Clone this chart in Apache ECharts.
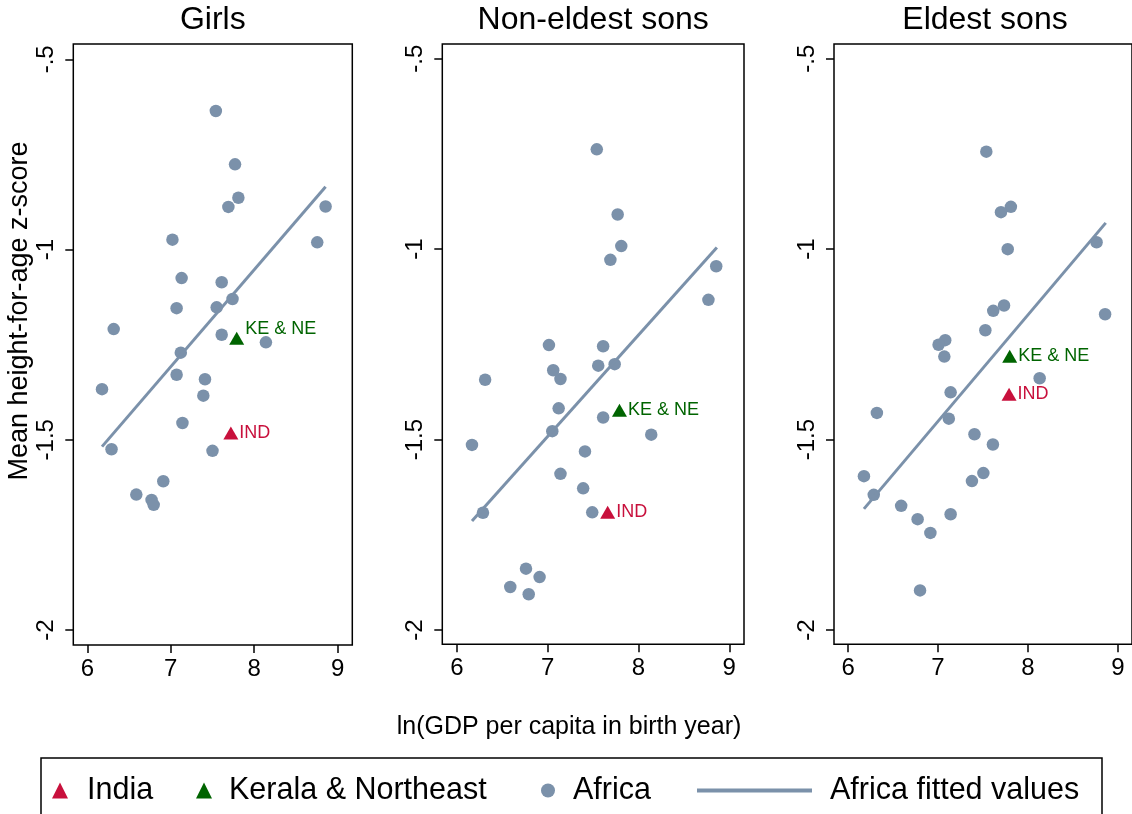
<!DOCTYPE html>
<html>
<head>
<meta charset="utf-8">
<script src="https://cdn.jsdelivr.net/npm/echarts@6/dist/echarts.min.js"></script>
<style>
  html, body { margin: 0; padding: 0; background: #fff; }
  #chart { width: 1132px; height: 814px; }
</style>
</head>
<body>
<div id="chart"></div>
<script>
// ---------------- data ----------------
const panelTitles = ['Girls', 'Non-eldest sons', 'Eldest sons'];
const xTicks = [6, 7, 8, 9];
const yTicks = [-2, -1.5, -1, -0.5];
const yTickLabels = ['-2', '-1.5', '-1', '-.5'];
const xTitle = 'ln(GDP per capita in birth year)';
const yTitle = 'Mean height-for-age z-score';
const seriesNames = ['India', 'Kerala & Northeast', 'Africa', 'Africa fitted values'];
const markerLabels = ['IND', 'KE & NE'];

// Girls
const girlsAfricaX = [7.54, 7.77, 7.81, 7.69, 8.855, 8.755, 7.02, 7.13, 7.61, 7.74, 7.07, 7.55, 6.316, 7.61, 8.14, 7.12, 7.07, 7.41, 6.176, 7.39, 7.14, 6.29, 7.50, 6.91, 6.587, 6.77, 6.795];
const girlsAfricaY = [-0.636, -0.776, -0.864, -0.888, -0.887, -0.981, -0.974, -1.075, -1.086, -1.13, -1.154, -1.152, -1.209, -1.224, -1.244, -1.271, -1.329, -1.341, -1.367, -1.384, -1.456, -1.525, -1.529, -1.609, -1.644, -1.658, -1.671];
const girlsIndia = [7.72, -1.482];
const girlsKeNe = [7.79, -1.233];
const girlsFitX = [6.176, 8.855];
const girlsFitY = [-1.518, -0.835];

// Non-eldest sons
const nonEldestAfricaX = [7.54, 7.77, 7.81, 7.69, 8.856, 8.77, 7.013, 7.61, 7.556, 7.737, 7.06, 7.14, 6.31, 7.12, 7.61, 7.05, 8.14, 6.165, 7.41, 7.14, 7.39, 7.49, 6.286, 6.76, 6.91, 6.587, 6.79];
const nonEldestAfricaY = [-0.738, -0.909, -0.992, -1.028, -1.045, -1.133, -1.252, -1.255, -1.306, -1.302, -1.318, -1.341, -1.343, -1.418, -1.442, -1.478, -1.487, -1.514, -1.531, -1.59, -1.628, -1.691, -1.692, -1.839, -1.861, -1.887, -1.906];
const nonEldestIndia = [7.66, -1.691];
const nonEldestKeNe = [7.79, -1.423];
const nonEldestFitX = [6.165, 8.863];
const nonEldestFitY = [-1.714, -0.996];

// Eldest sons
const eldestAfricaX = [7.537, 7.81, 7.70, 7.775, 8.763, 8.858, 7.734, 7.614, 7.526, 7.08, 7.006, 7.07, 8.13, 7.14, 6.32, 7.12, 7.405, 7.61, 6.176, 7.504, 7.377, 6.285, 6.59, 7.14, 6.773, 6.915, 6.80];
const eldestAfricaY = [-0.744, -0.889, -0.903, -1.0, -0.982, -1.171, -1.148, -1.162, -1.213, -1.239, -1.251, -1.282, -1.339, -1.376, -1.43, -1.445, -1.486, -1.513, -1.596, -1.588, -1.609, -1.645, -1.674, -1.696, -1.709, -1.745, -1.896];
const eldestIndia = [7.79, -1.381];
const eldestKeNe = [7.797, -1.281];
const eldestFitX = [6.176, 8.865];
const eldestFitY = [-1.682, -0.931];

// ---------------- layout / style ----------------
const FONT = '"Liberation Sans", Arial, Helvetica, sans-serif';
const C_AFRICA = '#7b91aa';
const C_INDIA = '#c8103c';
const C_KENE = '#006400';

const panels = [
  { title: panelTitles[0], ax: girlsAfricaX, ay: girlsAfricaY, india: girlsIndia, kene: girlsKeNe, fx: girlsFitX, fy: girlsFitY,
    grid: { left: 73.3, top: 44, width: 279, height: 601 }, xr: [5.832, 9.175], yr: [-2.0394, -0.4598], keOffset: [0, -9] },
  { title: panelTitles[1], ax: nonEldestAfricaX, ay: nonEldestAfricaY, india: nonEldestIndia, kene: nonEldestKeNe, fx: nonEldestFitX, fy: nonEldestFitY,
    grid: { left: 442.3, top: 44, width: 301.7, height: 600.3 }, xr: [5.838, 9.162], yr: [-2.0375, -0.4614], keOffset: [0, 0] },
  { title: panelTitles[2], ax: eldestAfricaX, ay: eldestAfricaY, india: eldestIndia, kene: eldestKeNe, fx: eldestFitX, fy: eldestFitY,
    grid: { left: 834, top: 44, width: 302, height: 600.3 }, xr: [5.843, 9.157], yr: [-2.0375, -0.4614], keOffset: [0, 0] }
];

const grids = [], xAxes = [], yAxes = [], series = [], graphics = [];

panels.forEach((p, i) => {
  grids.push(Object.assign({ show: true, borderColor: '#000', borderWidth: 1.5, backgroundColor: 'transparent' }, p.grid));
  xAxes.push({
    type: 'value', gridIndex: i, min: p.xr[0], max: p.xr[1],
    axisLine: { show: false },
    axisTick: { show: true, length: 8, lineStyle: { color: '#000', width: 1.5 }, customValues: xTicks },
    axisLabel: { show: true, customValues: xTicks, margin: 12, fontSize: 24, color: '#000', fontFamily: FONT },
    splitLine: { show: false }
  });
  yAxes.push({
    type: 'value', gridIndex: i, min: p.yr[0], max: p.yr[1],
    axisLine: { show: false },
    axisTick: { show: true, length: 8, lineStyle: { color: '#000', width: 1.5 }, customValues: yTicks },
    axisLabel: {
      show: true, customValues: yTicks, rotate: 90, margin: 15, fontSize: 24, color: '#000', fontFamily: FONT,
      formatter: v => { const k = yTicks.findIndex(t => Math.abs(t - v) < 1e-9); return k >= 0 ? yTickLabels[k] : ''; }
    },
    splitLine: { show: false }
  });
  series.push({
    name: seriesNames[0], type: 'scatter', xAxisIndex: i, yAxisIndex: i,
    symbol: 'triangle', symbolSize: [15, 13], itemStyle: { color: C_INDIA, opacity: 1 },
    data: [p.india],
    label: { show: true, position: 'right', distance: 1, formatter: markerLabels[0], color: C_INDIA, fontSize: 18, fontFamily: FONT }
  });
  series.push({
    name: seriesNames[1], type: 'scatter', xAxisIndex: i, yAxisIndex: i,
    symbol: 'triangle', symbolSize: [15, 13], itemStyle: { color: C_KENE, opacity: 1 },
    data: [p.kene],
    label: { show: true, position: 'right', distance: 1, offset: p.keOffset, formatter: markerLabels[1], color: C_KENE, fontSize: 18, fontFamily: FONT }
  });
  series.push({
    name: seriesNames[2], type: 'scatter', xAxisIndex: i, yAxisIndex: i,
    symbol: 'circle', symbolSize: 12.5, itemStyle: { color: C_AFRICA, opacity: 1 },
    data: p.ax.map((x, k) => [x, p.ay[k]])
  });
  series.push({
    name: seriesNames[3], type: 'line', xAxisIndex: i, yAxisIndex: i,
    showSymbol: false, symbol: 'none', color: C_AFRICA,
    lineStyle: { color: C_AFRICA, width: 3 }, itemStyle: { color: C_AFRICA },
    data: p.fx.map((x, k) => [x, p.fy[k]])
  });
  graphics.push({
    type: 'text', x: p.grid.left + p.grid.width / 2, y: 20,
    style: { text: p.title, fontSize: 32, fontFamily: FONT, fill: '#000', align: 'center', verticalAlign: 'middle', textAlign: 'center', textVerticalAlign: 'middle' }
  });
});

graphics.push({
  type: 'text', x: 20, y: 311, rotation: Math.PI / 2,
  style: { text: yTitle, fontSize: 27, fontFamily: FONT, fill: '#000', align: 'center', verticalAlign: 'middle', textAlign: 'center', textVerticalAlign: 'middle' }
});
graphics.push({
  type: 'text', x: 569, y: 727,
  style: { text: xTitle, fontSize: 25, fontFamily: FONT, fill: '#000', align: 'center', verticalAlign: 'middle', textAlign: 'center', textVerticalAlign: 'middle' }
});
graphics.push({
  type: 'rect', shape: { x: 41, y: 758, width: 1061, height: 90 },
  style: { fill: 'none', stroke: '#000', lineWidth: 1.5 }
});

const TRI = 'path://M8,0 L16,16 L0,16 Z';
const legendBase = (left, name, icon, w, h, padLeft) => ({
  left: left, top: 775, padding: 0, selectedMode: false, orient: 'horizontal',
  itemWidth: w, itemHeight: h, symbolKeepAspect: true,
  data: [{ name: name, icon: icon, itemStyle: { opacity: 1 } }],
  textStyle: { fontSize: 30.5, fontFamily: FONT, color: '#000', padding: [0, 0, 0, padLeft] }
});

const option = {
  animation: false,
  backgroundColor: '#fff',
  grid: grids,
  xAxis: xAxes,
  yAxis: yAxes,
  series: series,
  graphic: graphics,
  legend: [
    legendBase(52, seriesNames[0], TRI, 16, 16, 14),
    legendBase(196, seriesNames[1], TRI, 16, 16, 12),
    legendBase(541, seriesNames[2], 'circle', 14, 14, 13),
    legendBase(697, seriesNames[3], 'rect', 115, 4, 13)
  ]
};

const chart = echarts.init(document.getElementById('chart'), null, { renderer: 'canvas' });
chart.setOption(option);
</script>
</body>
</html>
